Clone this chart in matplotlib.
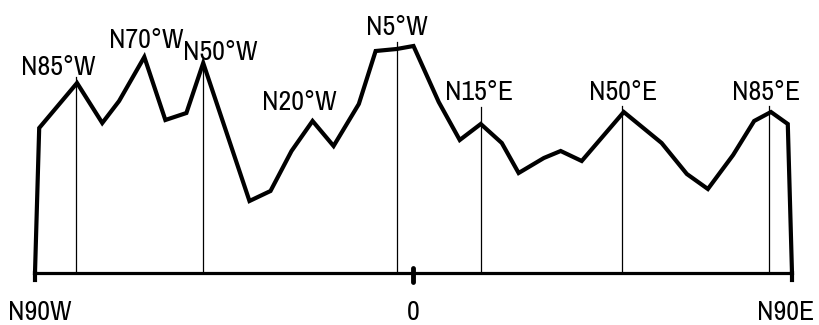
import matplotlib
matplotlib.use("Agg")
import matplotlib.pyplot as plt
from matplotlib import font_manager

# ── Data ───────────────────────────────────────────────────────────────────────

# profile: strike direction (deg, W negative) vs. relative height
angle_deg = [-90, -89, -80, -74, -70, -64, -59, -54, -50, -39, -34, -29, -24,
             -19, -13, -9, -4, 0, 6, 11, 16, 21, 25, 31, 35, 40, 50, 59, 65,
             70, 76, 81, 85, 89, 90]
height = [0, 145, 190, 150, 172, 216, 153, 160, 210, 72, 82, 122, 152,
          127, 169, 222, 224, 227, 171, 133, 149, 130, 100, 115, 122, 112, 161,
          130, 99, 84, 118, 152, 161, 149, 0]

# marked peaks: vertical guide lines
marker_deg = [-80.2, -50, -4, 16, 49.5, 84.5]
marker_top = [196, 210, 231, 166, 167, 167]

# peak labels
label_text = ["N85°W", "N70°W", "N50°W", "N20°W", "N5°W", "N15°E", "N50°E", "N85°E"]
label_deg = [-84.4, -63.5, -46, -27.2, -4, 15.6, 49.8, 83.8]
label_height = [198, 225, 213, 163, 238, 173, 173, 173]

# axis labels
axis_text = ["N90W", "0", "N90E"]
axis_deg = [-96.4, 0, 95.2]
axis_ha = ["left", "center", "right"]

# ── Font: prefer a narrow face, like the stencil lettering ────────────────────

family, fsize = None, 17
for f in font_manager.fontManager.ttflist:
    if "Narrow" in f.name or "Condensed" in f.name:
        family, fsize = f.name, 20
        break
if family is None:
    family = "Roboto"
plt.rcParams["font.family"] = [family, "DejaVu Sans"]

# ── Plot ───────────────────────────────────────────────────────────────────────

fig = plt.figure(figsize=(8.2, 3.25), dpi=100)
ax = fig.add_axes([0, 0, 1, 1])
ax.set_xlim(-98.32, 96.66)
ax.set_ylim(-52, 273)
ax.axis("off")

# baseline with end / centre ticks
ax.plot([-90, 90], [0, 0], color="black", lw=2.3, solid_capstyle="butt")
ax.plot([-90, -90], [-7, 0], color="black", lw=3.0)
ax.plot([90, 90], [-7, 0], color="black", lw=3.0)
ax.plot([0, 0], [-9, 5], color="black", lw=3.5, solid_capstyle="round")

for x, top in zip(marker_deg, marker_top):
    ax.plot([x, x], [0, top], color="black", lw=0.9)

ax.plot(angle_deg, height, color="black", lw=3.0, solid_joinstyle="miter")

for t, x, y in zip(label_text, label_deg, label_height):
    ax.text(x, y, t, ha="center", va="baseline", fontsize=fsize)

for t, x, ha in zip(axis_text, axis_deg, axis_ha):
    ax.text(x, -47, t, ha=ha, va="baseline", fontsize=fsize)

fig.savefig("out.png", dpi=100)
